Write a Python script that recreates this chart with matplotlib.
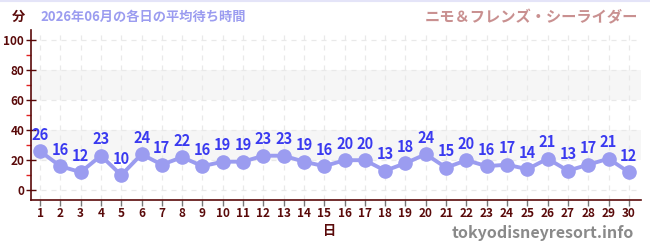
import matplotlib
matplotlib.use("Agg")
import matplotlib.pyplot as plt
from matplotlib.ticker import MultipleLocator

plt.rcParams['font.family'] = ['Noto Sans CJK JP', 'DejaVu Sans']

days = list(range(1, 31))
waits = [26, 16, 12, 23, 10, 24, 17, 22, 16, 19, 19, 23, 23, 19, 16,
         20, 20, 13, 18, 24, 15, 20, 16, 17, 14, 21, 13, 17, 21, 12]
title_left = "2026年06月の各日の平均待ち時間"
title_right = "ニモ＆フレンズ・シーライダー"
y_unit = "分"
x_label = "日"
watermark = "tokyodisneyresort.info"

dark = "#5a0a0a"
line_c = "#9b9cf0"
label_c = "#3a3af0"

fig = plt.figure(figsize=(6.5, 2.5), dpi=100)
ax = fig.add_axes([30.5/650, 1-200/250, (641-30.5)/650, 170/250])

for lo, hi in [(20, 40), (60, 80)]:
    ax.axhspan(lo, hi, color="#f6f6f6", zorder=0, lw=0)

ax.plot(days, waits, color=line_c, lw=2.8, marker='o', ms=9.5,
        markerfacecolor=line_c, markeredgecolor=line_c, zorder=3)
for d, v in zip(days, waits):
    ax.annotate(str(v), (d, v), xytext=(0, 6), textcoords='offset points',
                ha='center', va='bottom', color=label_c, fontsize=10.5,
                fontweight='bold', zorder=4)

ax.set_xlim(0.53, 30.6)
ax.set_ylim(-6.6, 107)
ax.set_xticks(days)
ax.set_xticklabels([str(d) for d in days])
ax.yaxis.set_major_locator(MultipleLocator(20))
ax.yaxis.set_minor_locator(MultipleLocator(10))

ax.grid(True, which='major', axis='x', color='#e9e9e9', ls=(0, (4, 4)), lw=0.9)
ax.grid(True, which='major', axis='y', color='#e9e9e9', ls=(0, (4, 4)), lw=0.9)
ax.set_axisbelow(True)

for s in ['top', 'right']:
    ax.spines[s].set_visible(False)
for s in ['left', 'bottom']:
    ax.spines[s].set_color(dark)
    ax.spines[s].set_linewidth(1.2)

ax.tick_params(axis='y', which='major', direction='inout', length=7, width=1,
               color=dark, labelcolor=dark, labelsize=8.5, pad=1)
ax.tick_params(axis='y', which='minor', direction='out', length=3.5, width=1,
               color='#e02020')
ax.tick_params(axis='x', which='major', direction='out', length=4, width=1,
               color='#777777', labelcolor=dark, labelsize=8.5, pad=1)
for lab in ax.get_xticklabels() + ax.get_yticklabels():
    lab.set_fontweight('bold')

fig.text(18/650, 1-17/250, y_unit, color=dark, fontsize=9.5, fontweight='bold',
         ha='center', va='center')
fig.text(40/650, 1-17/250, title_left, color="#9b9cf0", fontsize=9.5,
         fontweight='bold', ha='left', va='center')
fig.text(638/650, 1-17/250, title_right, color="#c99090", fontsize=11,
         fontweight='bold', ha='right', va='center')
fig.text(330/650, 1-231/250, x_label, color=dark, fontsize=9.5,
         fontweight='bold', ha='center', va='center')
fig.text(634/650, 1-233/250, watermark, color="#8a8a8a", fontsize=11.5,
         fontweight='bold', ha='right', va='center')
fig.add_artist(plt.Line2D([0, 1], [0.998, 0.998], color="#e4e4f8", lw=1.5,
                          transform=fig.transFigure))

fig.savefig("out.png", dpi=100)
